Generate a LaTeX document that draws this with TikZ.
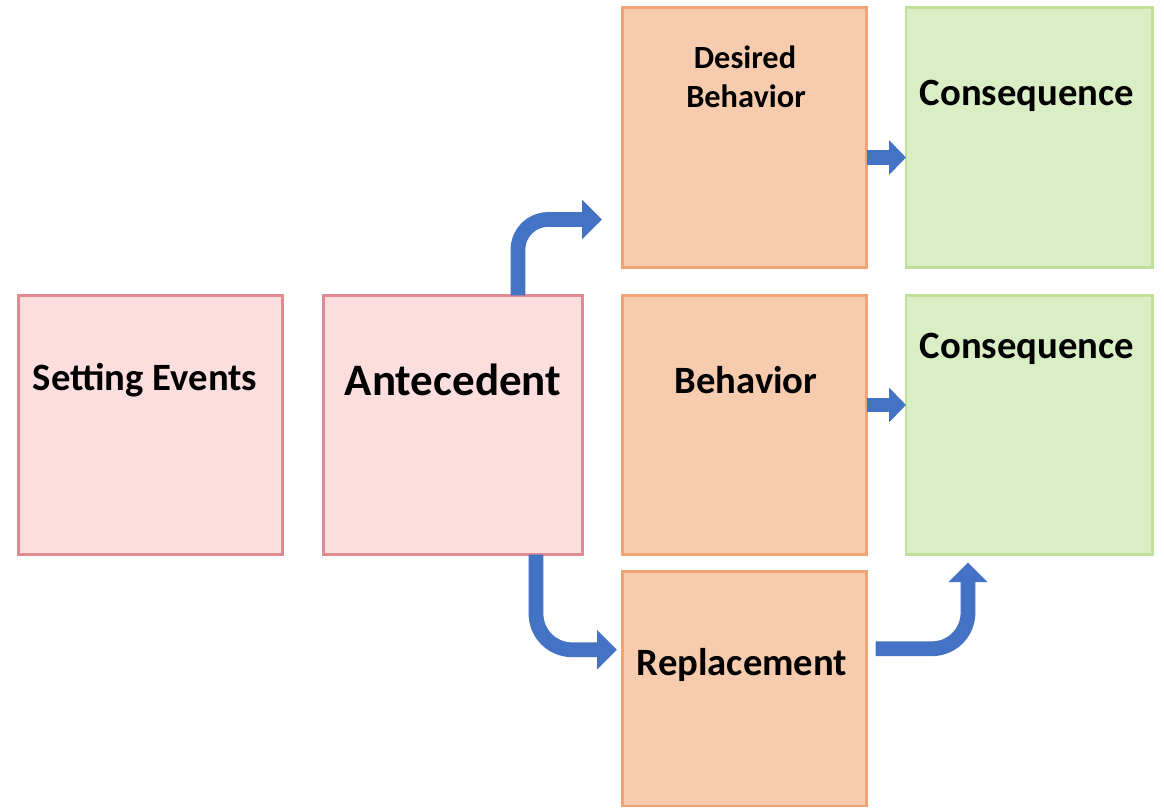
\documentclass[tikz,border=0pt]{standalone}
\usepackage{fontspec}
\setmainfont{Carlito}
\usetikzlibrary{arrows.meta,calc}
\definecolor{pinkfill}{HTML}{FCDEDE}
\definecolor{pinkline}{HTML}{E08A92}
\definecolor{orfill}{HTML}{F7CBAE}
\definecolor{orline}{HTML}{F2A372}
\definecolor{grfill}{HTML}{DAEEC6}
\definecolor{grline}{HTML}{BEE09A}
\definecolor{arrblue}{HTML}{4472C4}
\tikzset{
  box/.style={rectangle, inner sep=0pt, outer sep=0pt, line width=2.1pt},
  pinkbox/.style={box, fill=pinkfill, draw=pinkline},
  orbox/.style={box, fill=orfill, draw=orline},
  grbox/.style={box, fill=grfill, draw=grline},
  lbl/.style={anchor=base, inner sep=0pt, font=\bfseries\fontsize{27.5}{33}\selectfont},
  smalllbl/.style={anchor=base, inner sep=0pt, font=\bfseries\fontsize{23}{27}\selectfont},
  bigarrow/.style={draw=arrblue, line width=10.5pt, rounded corners=0.75cm,
    -{Triangle[length=14pt,width=27pt]}},
  shortarrow/.style={draw=arrblue, line width=10.5pt,
    -{Triangle[length=12pt,width=24pt]}}
}
\begin{document}
\begin{tikzpicture}[x=0.025cm,y=-0.025cm]
\useasboundingbox (0,0) rectangle (1164,809);
% boxes
\node[pinkbox, minimum width=6.6cm, minimum height=6.475cm] (se) at (150.5,425) {};
\node[pinkbox, minimum width=6.475cm, minimum height=6.475cm] (ant) at (453,425) {};
\node[orbox, minimum width=6.09cm, minimum height=6.5cm] (db) at (744.75,137.5) {};
\node[grbox, minimum width=6.15cm, minimum height=6.5cm] (c1) at (1029,137.5) {};
\node[orbox, minimum width=6.09cm, minimum height=6.475cm] (beh) at (744.75,425) {};
\node[grbox, minimum width=6.15cm, minimum height=6.475cm] (c2) at (1029,425) {};
\node[orbox, minimum width=6.09cm, minimum height=5.86cm] (rep) at (744.75,688.75) {};
% labels
\node[lbl] (tse) at (145,390) {Setting Events};
\node[lbl, font=\bfseries\fontsize{32}{38}\selectfont] (tant) at (453,395) {Antecedent};
\node[smalllbl] (tdb1) at (745,68) {Desired};
\node[smalllbl] (tdb2) at (746,107) {Behavior};
\node[lbl] (tc1) at (1027,105) {Consequence};
\node[lbl] (tbeh) at (746,393) {Behavior};
\node[lbl] (tc2) at (1027,358) {Consequence};
\node[lbl] (trep) at (742,675) {Replacement};
% arrows
\coordinate (a1s) at ($(ant.north)+(65,0)$);
\coordinate (a1e) at ($(db.west)+(-21,82)$);
\draw[bigarrow] (a1s) |- (a1e);
\coordinate (a2s) at ($(ant.south)+(83,0)$);
\coordinate (a2e) at ($(rep.west)+(-6,-39)$);
\draw[bigarrow, rounded corners=0.9cm] (a2s) |- (a2e);
\coordinate (a3s) at ($(rep.east)+(9,-40)$);
\coordinate (a3e) at ($(c2.south)+(-61,8)$);
\draw[bigarrow, rounded corners=0.9cm] (a3s) -| (a3e);
\draw[shortarrow] ($(db.east)+(0,20)$) -- ($(c1.west)+(0,20)$);
\draw[shortarrow] ($(beh.east)+(0,-20)$) -- ($(c2.west)+(0,-20)$);
\end{tikzpicture}
\end{document}
